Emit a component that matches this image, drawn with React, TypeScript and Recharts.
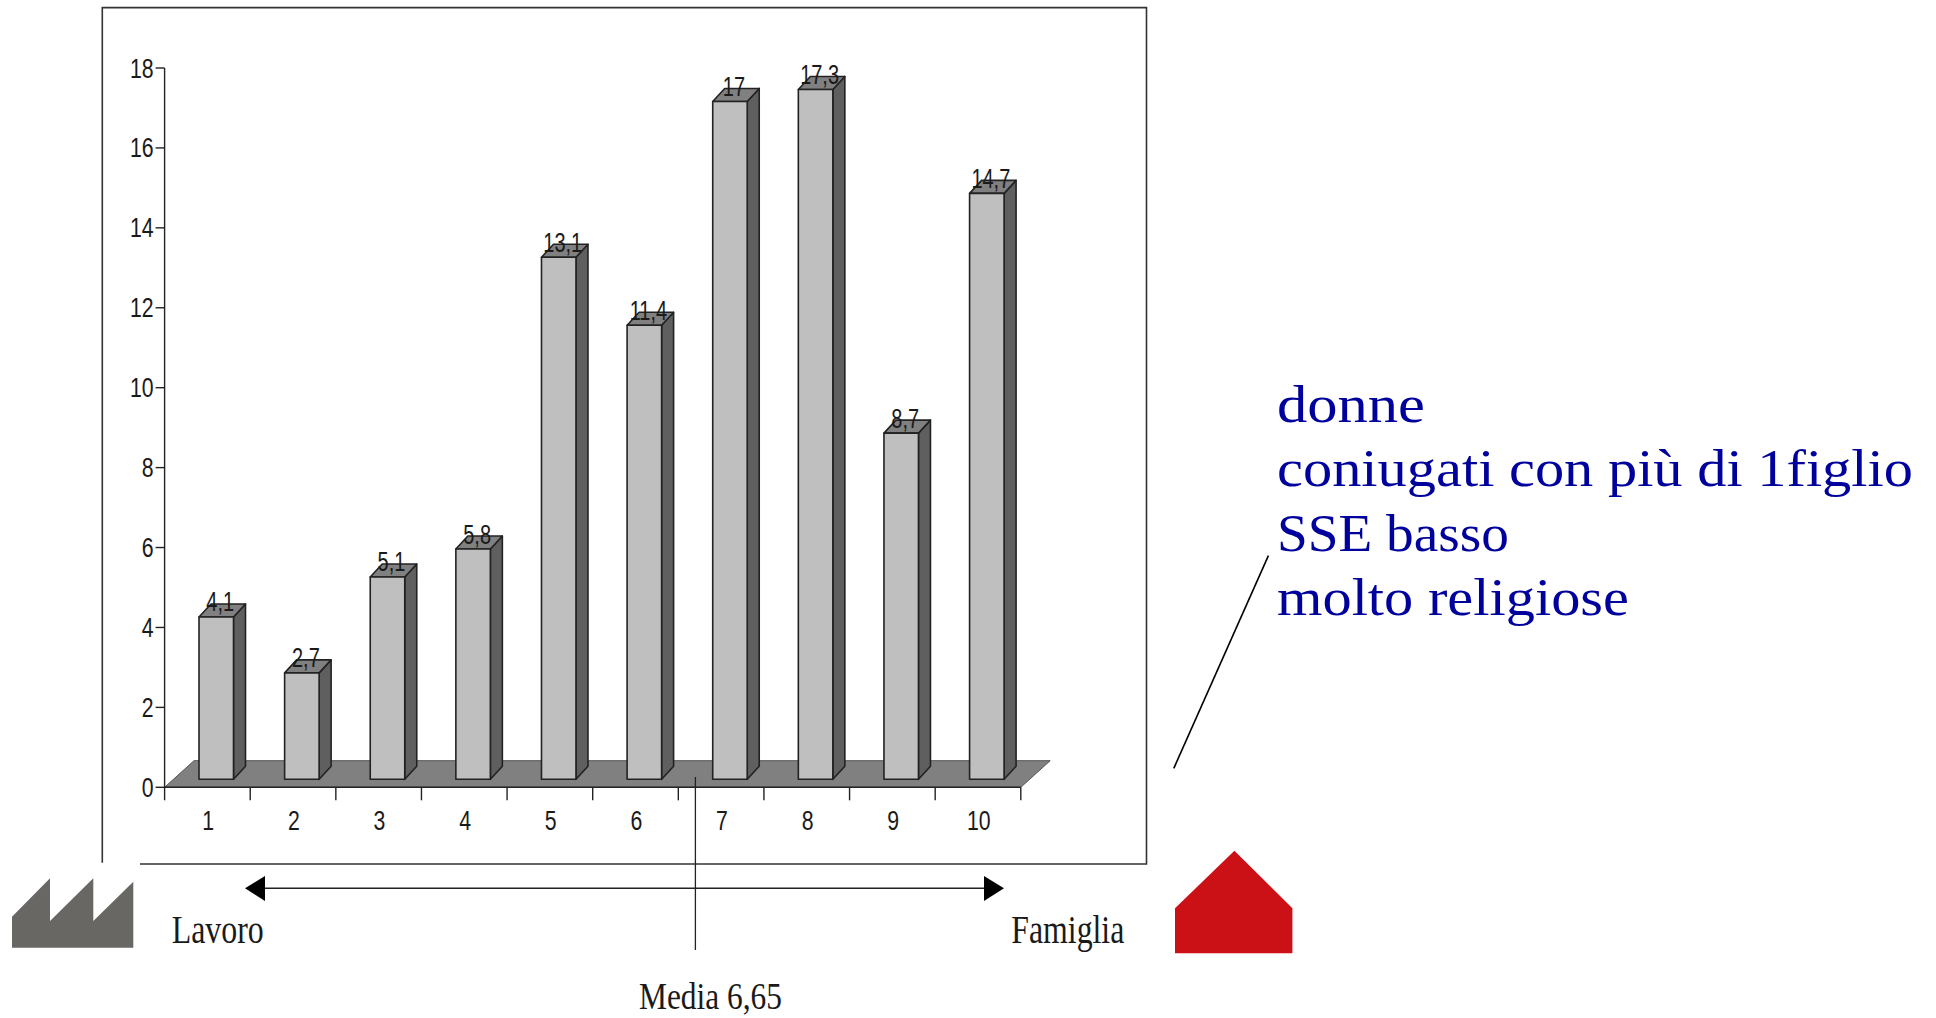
import { BarChart, Bar, XAxis, YAxis, LabelList, ReferenceArea } from 'recharts'

const categories = ['1', '2', '3', '4', '5', '6', '7', '8', '9', '10']
const values = [4.1, 2.7, 5.1, 5.8, 13.1, 11.4, 17, 17.3, 8.7, 14.7]
const yTicks = [0, 2, 4, 6, 8, 10, 12, 14, 16, 18]
const notes = ['donne', 'coniugati con più di 1figlio', 'SSE basso', 'molto religiose']
const noteWidths = [148, 636, 232, 352]

const data = categories.map((name, i) => ({ name, value: values[i] }))

const BAND = 85.62
const INK = '#222'
const SANS = '"Liberation Sans", Arial, sans-serif'
const SERIF = '"Liberation Serif", "Times New Roman", serif'

// the picture has squeezed type, so every chart label is scaled on x
function NarrowText({ x, y, anchor, size, sx, children }: any) {
  return (
    <text
      transform={`translate(${x},${y}) scale(${sx},1)`}
      textAnchor={anchor}
      fontFamily={SANS}
      fontSize={size}
      fill="#1a1a1a"
    >
      {children}
    </text>
  )
}

function Prism({ x, y, width, height }: any) {
  const left = x + 8.4
  const right = left + width
  // the base sits on the floor, a little above and right of the axis origin
  const top = y - 6.5
  const bottom = y + height - 8
  const dx = 12
  const dy = 13
  return (
    <g stroke={INK} strokeWidth={1.6} strokeLinejoin="round">
      <polygon
        points={`${right},${top} ${right + dx},${top - dy} ${right + dx},${bottom - dy} ${right},${bottom}`}
        fill="#5f5f5f"
      />
      <polygon
        points={`${left},${top} ${left + dx},${top - dy} ${right + dx},${top - dy} ${right},${top}`}
        fill="#808080"
      />
      <rect x={left} y={top} width={width} height={bottom - top} fill="#bfbfbf" />
    </g>
  )
}

function Floor({ x, y, width, height }: any) {
  const depth = 29.4
  return (
    <polygon
      points={`${x},${y + height} ${x + depth},${y} ${x + width + depth},${y} ${x + width},${y + height}`}
      fill="#808080"
      stroke="#555"
      strokeWidth={1}
    />
  )
}

function ValueLabel({ x, y, width, value }: any) {
  return (
    <NarrowText x={x + 8.4 + width / 2 + 4} y={y - 12} anchor="middle" size={27} sx={0.74}>
      {String(value).replace('.', ',')}
    </NarrowText>
  )
}

function YTick({ x, y, payload }: any) {
  return (
    <NarrowText x={x} y={y + 9.5} anchor="end" size={28} sx={0.76}>
      {payload.value}
    </NarrowText>
  )
}

function XTick({ x, y, payload, index }: any) {
  const left = x - BAND / 2
  const right = x + BAND / 2
  return (
    <g>
      <line x1={left} y1={y} x2={left} y2={y + 13} stroke={INK} strokeWidth={1.4} />
      {index === categories.length - 1 && (
        <line x1={right} y1={y} x2={right} y2={y + 13} stroke={INK} strokeWidth={1.4} />
      )}
      <NarrowText x={x + 0.8} y={y + 43} anchor="middle" size={28} sx={0.76}>
        {payload.value}
      </NarrowText>
    </g>
  )
}

function Overlay() {
  const labelProps = { fontFamily: SERIF, fontSize: 40, fill: '#1a1a1a', lengthAdjust: 'spacingAndGlyphs' as const }
  return (
    <svg width={1936} height={1018} style={{ position: 'absolute', left: 0, top: 0 }}>
      <path d="M102.3,862.7 V7.6 H1146.5 V864 H140" fill="none" stroke="#333" strokeWidth={1.6} />

      <line x1={695.4} y1={777} x2={695.4} y2={950} stroke="#222" strokeWidth={1.3} />
      <line x1={262} y1={888.3} x2={985} y2={888.3} stroke="#222" strokeWidth={1.6} />
      <polygon points="245,888.3 265,876 265,901" fill="#000" />
      <polygon points="1004,888.3 984,876 984,901" fill="#000" />

      <polygon
        points="12,916.7 50,878.3 50,921 93.3,878.3 93.3,921 133.3,881.7 133.3,947.7 12,947.7"
        fill="#686763"
      />
      <polygon points="1234.4,850.7 1292.4,908.3 1292.4,953.3 1175,953.3 1175,908.3" fill="#cb1016" />
      <line x1={1173.8} y1={768.3} x2={1268.4} y2={555.7} stroke="#000" strokeWidth={1.6} />

      <text x={171.7} y={943} textLength={92} {...labelProps}>Lavoro</text>
      <text x={1011.3} y={943} textLength={113} {...labelProps}>Famiglia</text>
      <text x={639} y={1009} textLength={143} {...labelProps} fontSize={38}>Media 6,65</text>

      {notes.map((line, i) => (
        <text
          key={line}
          x={1277}
          y={422 + i * 64.4}
          textLength={noteWidths[i]}
          lengthAdjust="spacingAndGlyphs"
          fontFamily={SERIF}
          fontSize={52}
          fill="#00009c"
        >
          {line}
        </text>
      ))}
    </svg>
  )
}

export default function App() {
  return (
    <div style={{ position: 'absolute', left: 0, top: 0, width: 1936, height: 1018, overflow: 'hidden', background: '#fff' }}>
      <BarChart
        width={1936}
        height={1018}
        data={data}
        barSize={34.5}
        margin={{ top: 68, right: 915.2, bottom: 170.7, left: 104.6 }}
      >
        <ReferenceArea y1={0} y2={0.666} ifOverflow="visible" shape={<Floor />} />
        <XAxis
          dataKey="name"
          height={60}
          interval={0}
          tickLine={false}
          tickSize={0}
          tickMargin={0}
          axisLine={{ stroke: INK, strokeWidth: 1.4 }}
          tick={<XTick />}
        />
        <YAxis
          width={60}
          domain={[0, 18]}
          ticks={yTicks}
          interval={0}
          tickSize={9}
          tickMargin={2}
          tickLine={{ stroke: INK, strokeWidth: 1.4 }}
          axisLine={{ stroke: INK, strokeWidth: 1.4 }}
          tick={<YTick />}
        />
        <Bar dataKey="value" isAnimationActive={false} shape={<Prism />}>
          <LabelList dataKey="value" content={<ValueLabel />} />
        </Bar>
      </BarChart>
      <Overlay />
    </div>
  )
}
